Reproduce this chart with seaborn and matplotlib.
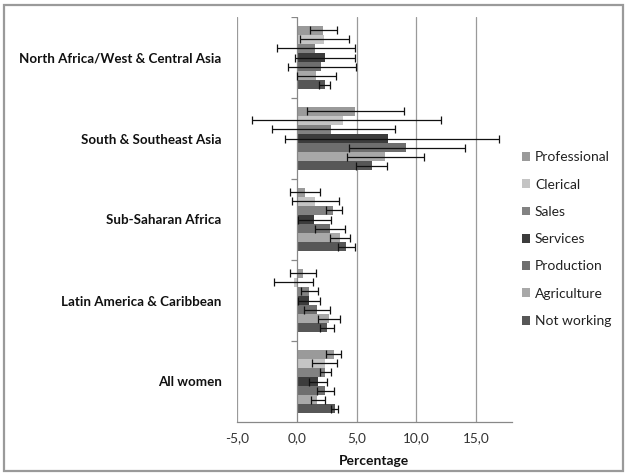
import numpy as np
import pandas as pd
import matplotlib
matplotlib.use("Agg")
import matplotlib.pyplot as plt
import seaborn as sns
from matplotlib.patches import Rectangle

regions = ["North Africa/West & Central Asia", "South & Southeast Asia",
           "Sub-Saharan Africa", "Latin America & Caribbean", "All women"]
occupations = ["Professional", "Clerical", "Sales", "Services",
               "Production", "Agriculture", "Not working"]

# values per occupation, in region order
professional = [2.2, 4.85, 0.72, 0.48, 3.08]
clerical     = [2.3, 3.85, 1.5, -0.2, 2.32]
sales        = [1.5, 2.9, 3.05, 1.06, 2.4]
services     = [2.35, 7.6, 1.45, 1.0, 1.8]
production   = [2.05, 9.1, 2.75, 1.68, 2.38]
agriculture  = [1.62, 7.35, 3.58, 2.68, 1.72]
not_working  = [2.32, 6.25, 4.14, 2.52, 3.16]

# confidence bounds (low, high)
professional_lo = [1.07, 0.87, -0.59, -0.56, 2.46]
professional_hi = [3.35, 8.97, 1.96, 1.62, 3.66]
clerical_lo     = [0.23, -3.77, -0.39, -1.87, 1.26]
clerical_hi     = [4.36, 12.1, 3.52, 1.34, 3.35]
sales_lo        = [-1.64, -2.06, 2.46, 0.37, 1.96]
sales_hi        = [4.9, 8.25, 3.77, 1.76, 2.88]
services_lo     = [-0.13, -0.97, 0.09, 0.09, 1.06]
services_hi     = [4.9, 16.93, 2.85, 1.96, 2.55]
production_lo   = [-0.7, 4.36, 1.54, 0.59, 1.68]
production_hi   = [4.97, 14.1, 4.06, 2.74, 3.1]
agriculture_lo  = [0.03, 4.22, 2.74, 1.76, 1.2]
agriculture_hi  = [3.24, 10.65, 4.47, 3.64, 2.32]
not_working_lo  = [1.9, 4.97, 3.44, 1.96, 2.88]
not_working_hi  = [2.8, 7.58, 4.84, 3.1, 3.44]

x_ticks = [-5, 0, 5, 10, 15]
x_tick_labels = ["-5,0", "0,0", "5,0", "10,0", "15,0"]

colors = ["#9a9a9a", "#c4c4c4", "#828282", "#3c3c3c",
          "#6e6e6e", "#a8a8a8", "#575757"]

vals = [professional, clerical, sales, services, production, agriculture, not_working]
los = [professional_lo, clerical_lo, sales_lo, services_lo, production_lo, agriculture_lo, not_working_lo]
his = [professional_hi, clerical_hi, sales_hi, services_hi, production_hi, agriculture_hi, not_working_hi]

rows = []
for occ, v, lo, hi in zip(occupations, vals, los, his):
    for r, vv, l, h in zip(regions, v, lo, hi):
        rows.append(dict(region=r, occupation=occ, value=vv, lo=l, hi=h))
df = pd.DataFrame(rows)

sns.set_theme(style="white")
plt.rcParams["font.family"] = ["Lato", "DejaVu Sans"]

fig = plt.figure(figsize=(6.29, 4.76), dpi=100)
ax = fig.add_axes([237 / 629, 1 - 422 / 476, (512 - 237) / 629, (422 - 17) / 476])

sns.barplot(data=df, y="region", x="value", hue="occupation", order=regions,
            hue_order=occupations, palette=colors, orient="h", width=0.78,
            errorbar=None, saturation=1, ax=ax, linewidth=0)

# error bars from patches
for i, occ in enumerate(occupations):
    cont = ax.containers[i]
    sub = df[df.occupation == occ].set_index("region").loc[regions]
    ys = [p.get_y() + p.get_height() / 2 for p in cont.patches]
    xv = sub["value"].values
    xerr = np.vstack([xv - sub["lo"].values, sub["hi"].values - xv])
    ax.errorbar(xv, ys, xerr=xerr, fmt="none", ecolor="#111111",
                elinewidth=0.9, capsize=2.6, capthick=0.9, zorder=5)

ax.set_xlim(-5, 18)
ax.set_ylim(4.5, -0.5)
ax.set_xticks(x_ticks)
ax.set_xticklabels(x_tick_labels, fontsize=9.8, color="#333333")
ax.tick_params(axis="x", direction="out", length=4, color="#888888", width=0.8, pad=3)
ax.set_yticks(range(len(regions)))
ax.set_yticklabels(regions, fontsize=9.6, fontweight="bold", color="#111111")
ax.tick_params(axis="y", length=0, pad=11)

for s in ["top", "right", "left"]:
    ax.spines[s].set_visible(False)
ax.spines["bottom"].set_color("#888888")
ax.spines["bottom"].set_linewidth(0.9)

for xv in [-5, 5, 10, 15]:
    ax.axvline(xv, color="#9a9a9a", lw=0.9, zorder=0)
ax.axvline(0, color="#888888", lw=0.9, zorder=1)
ax.hlines(np.arange(-0.5, 4.5, 1.0), -0.45, 0, color="#888888", lw=0.9)

ax.set_ylabel("")
ax.set_xlabel("Percentage", fontsize=10, fontweight="bold", color="#111111", labelpad=8)

leg = ax.legend(loc="upper left", bbox_to_anchor=(1.015, 0.682), frameon=False,
                fontsize=10, handlelength=0.6, handleheight=0.6,
                handletextpad=0.35, labelspacing=1.1, borderaxespad=0)
for t in leg.get_texts():
    t.set_color("#222222")

fig.patches.append(Rectangle((4 / 629, 5 / 476), 619 / 629, 466 / 476,
                             transform=fig.transFigure, fill=False,
                             edgecolor="#9a9a9a", lw=1.6))

fig.savefig("out.png", dpi=100)
